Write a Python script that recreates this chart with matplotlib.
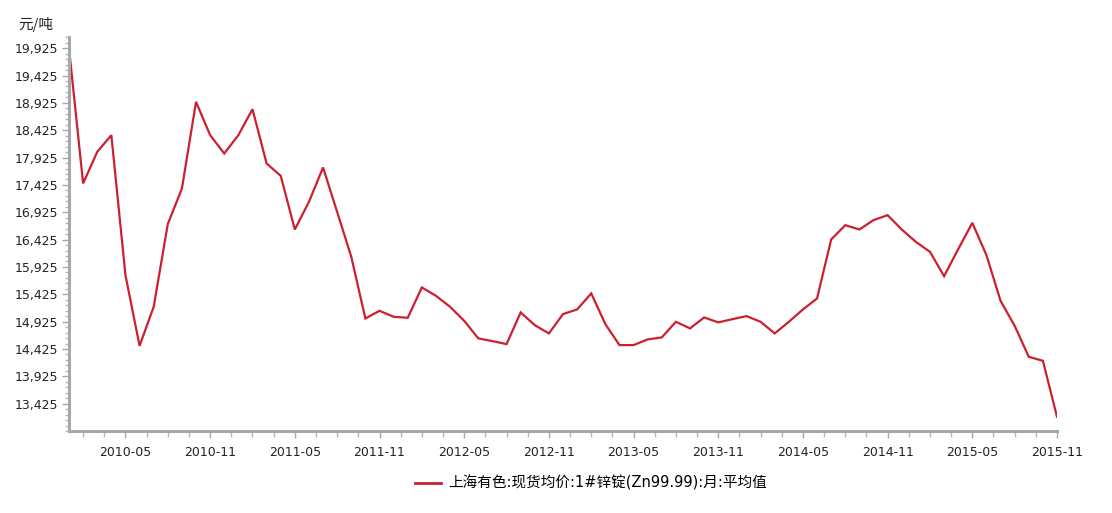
import matplotlib
matplotlib.use("Agg")
import matplotlib.pyplot as plt
from matplotlib.ticker import FixedLocator, FuncFormatter
from matplotlib.lines import Line2D

plt.rcParams['font.family'] = ['DejaVu Sans', 'Noto Sans CJK SC']

# monthly data 2010-01 .. 2015-11
months = [f"{y}-{m:02d}" for y in range(2010, 2016) for m in range(1, 13)][:71]
values = [19925, 17452, 18030, 18335, 15775, 14483, 15196, 16708, 17360, 18944,
          18335, 18000, 18335, 18810, 17817, 17591, 16610, 17116, 17744, 16930,
          16110, 14983, 15123, 15014, 14995, 15550, 15397, 15196, 14940, 14618,
          14569, 14514, 15093, 14861, 14709, 15063, 15148, 15441, 14880, 14496,
          14496, 14600, 14637, 14922, 14801, 15002, 14911, 14970, 15026, 14922,
          14709, 14922, 15148, 15349, 16428, 16689, 16610, 16781, 16872, 16610,
          16384, 16201, 15757, 16250, 16732, 16141, 15306, 14849, 14282, 14209,
          13185]
xtick_labels = ["2010-05", "2010-11", "2011-05", "2011-11", "2012-05", "2012-11",
                "2013-05", "2013-11", "2014-05", "2014-11", "2015-05", "2015-11"]
ytick_values = [13425, 13925, 14425, 14925, 15425, 15925, 16425, 16925,
                17425, 17925, 18425, 18925, 19425, 19925]
series_name = "上海有色:现货均价:1#锌锭(Zn99.99):月:平均值"
unit_label = "元/吨"

W, H = 1112, 513
fig = plt.figure(figsize=(W / 100, H / 100), dpi=100)
ax = fig.add_axes([69 / W, (H - 431) / H, (1057 - 69) / W, (431 - 37) / H])

x = list(range(len(values)))
color = '#CC1F2F'
ax.plot(x, values, color=color, lw=1.6, solid_joinstyle='miter')

ax.set_xlim(0, len(values) - 1)
ax.set_ylim(12925, 20130)

xt = [months.index(l) for l in xtick_labels]
ax.xaxis.set_major_locator(FixedLocator(xt))
ax.set_xticklabels(xtick_labels)
minor_x = []
for k in range(-1, len(xt)):
    base = xt[0] + 6 * k
    for j in (1.5, 3.0, 4.5):
        p = base + j
        if 0 <= p <= len(values) - 1:
            minor_x.append(p)
ax.xaxis.set_minor_locator(FixedLocator(minor_x))

ax.yaxis.set_major_locator(FixedLocator(ytick_values))
ax.yaxis.set_major_formatter(FuncFormatter(lambda v, p: f"{int(v):,}"))
ax.yaxis.set_minor_locator(FixedLocator([v for v in range(12925, 20131, 100)]))

for s in ['top', 'right']:
    ax.spines[s].set_visible(False)
for s in ['left', 'bottom']:
    ax.spines[s].set_color('#A8A8A8')
    ax.spines[s].set_linewidth(2.2)

ax.tick_params(axis='both', which='major', colors='#A8A8A8', labelcolor='#222222',
               labelsize=9)
ax.tick_params(axis='y', which='major', length=5, width=1, pad=3)
ax.tick_params(axis='y', which='minor', length=3, width=1, colors='#B8B8B8')
ax.tick_params(axis='x', which='major', length=5, width=1, pad=6)
ax.tick_params(axis='x', which='minor', length=4, width=1, colors='#B8B8B8')

fig.text(18 / W, 1 - 25 / H, unit_label, fontsize=10.5, color='#222222', va='center',
         family=['Noto Sans CJK SC', 'DejaVu Sans'])

handle = Line2D([0], [0], color=color, lw=2)
fig.legend([handle], [series_name], loc='center', bbox_to_anchor=(591 / W, 1 - 483 / H),
           frameon=False, fontsize=10.5, handlelength=1.8, handletextpad=0.5)

fig.savefig("out.png", dpi=100)
